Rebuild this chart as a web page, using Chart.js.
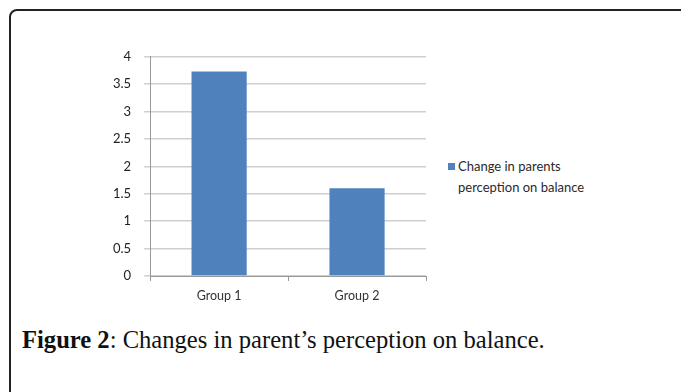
<!DOCTYPE html>
<html lang="en">
<head>
  <meta charset="UTF-8">
  <title>Figure 2</title>
  <script src="https://cdn.jsdelivr.net/npm/chart.js"></script>
  <style>
    html, body { margin: 0; padding: 0; background: #fff; }
    body { width: 681px; height: 392px; position: relative; overflow: hidden; }
    #frame {
      position: absolute; left: 9px; top: 9px; width: 700px; height: 420px;
      border: 2px solid #222; border-radius: 8px; box-sizing: border-box;
    }
    #chartBox { position: absolute; left: 98px; top: 36px; width: 342px; height: 274px; }
    #legend {
      position: absolute; left: 448px; top: 156px;
      font-family: Lato, "Open Sans", sans-serif; font-size: 13px; line-height: 21px; color: #2a2a2a;
    }
    #legend .sw {
      display: inline-block; width: 7px; height: 7px; margin-right: 3px; vertical-align: 1px;
    }
    #legend .txt { display: inline-block; vertical-align: top; }
    #caption {
      position: absolute; left: 22px; top: 326px;
      font-family: "Liberation Serif", "DejaVu Serif", serif; font-size: 24.6px; color: #111;
      white-space: nowrap;
    }
    #caption b { font-weight: bold; }
  </style>
</head>
<body>
  <div id="frame"></div>
  <div id="chartBox"><canvas id="chart"></canvas></div>
  <div id="legend"></div>
  <div id="caption"><b>Figure 2</b>: Changes in parent’s perception on balance.</div>

  <script>
    const categories = ["Group 1", "Group 2"];
    const seriesName = "Change in parents perception on balance";
    const seriesValues = [3.73, 1.6];
    const yTicks = [0, 0.5, 1, 1.5, 2, 2.5, 3, 3.5, 4];
    const barColor = "#4f81bd";

    const ctx = document.getElementById("chart").getContext("2d");
    const chart = new Chart(ctx, {
      type: "bar",
      data: {
        labels: categories,
        datasets: [{
          label: seriesName,
          data: seriesValues,
          backgroundColor: barColor,
          borderWidth: 0,
          barPercentage: 0.4,
          categoryPercentage: 1
        }]
      },
      options: {
        responsive: true,
        maintainAspectRatio: false,
        animation: false,
        layout: { padding: { top: 11, right: 14, bottom: 0, left: 2 } },
        plugins: {
          legend: { display: false },
          tooltip: { enabled: false }
        },
        scales: {
          x: {
            grid: {
              display: true, drawOnChartArea: false, drawTicks: true, tickLength: 5,
              offset: true, color: "#999"
            },
            border: { color: "#999", width: 1 },
            ticks: {
              color: "#333", padding: 7,
              font: { family: "Lato, 'Open Sans', sans-serif", size: 12.5 }
            }
          },
          y: {
            min: 0, max: 4,
            afterBuildTicks: axis => { axis.ticks = yTicks.map(v => ({ value: v })); },
            grid: { color: "#cfcfcf", lineWidth: 1.5, tickLength: 6 },
            border: { color: "#999", width: 1 },
            ticks: {
              color: "#222", padding: 13,
              font: { family: "Lato, 'Open Sans', sans-serif", size: 13 },
              callback: v => String(v)
            }
          }
        }
      }
    });

    // legend from the dataset
    const lg = document.getElementById("legend");
    chart.data.datasets.forEach(ds => {
      const words = ds.label.split(" ");
      lg.innerHTML += '<span class="sw" style="background:' + ds.backgroundColor + '"></span>' +
        '<span class="txt">' + words.slice(0, 3).join(" ") + '<br>' + words.slice(3).join(" ") + '</span>';
    });
  </script>
</body>
</html>
